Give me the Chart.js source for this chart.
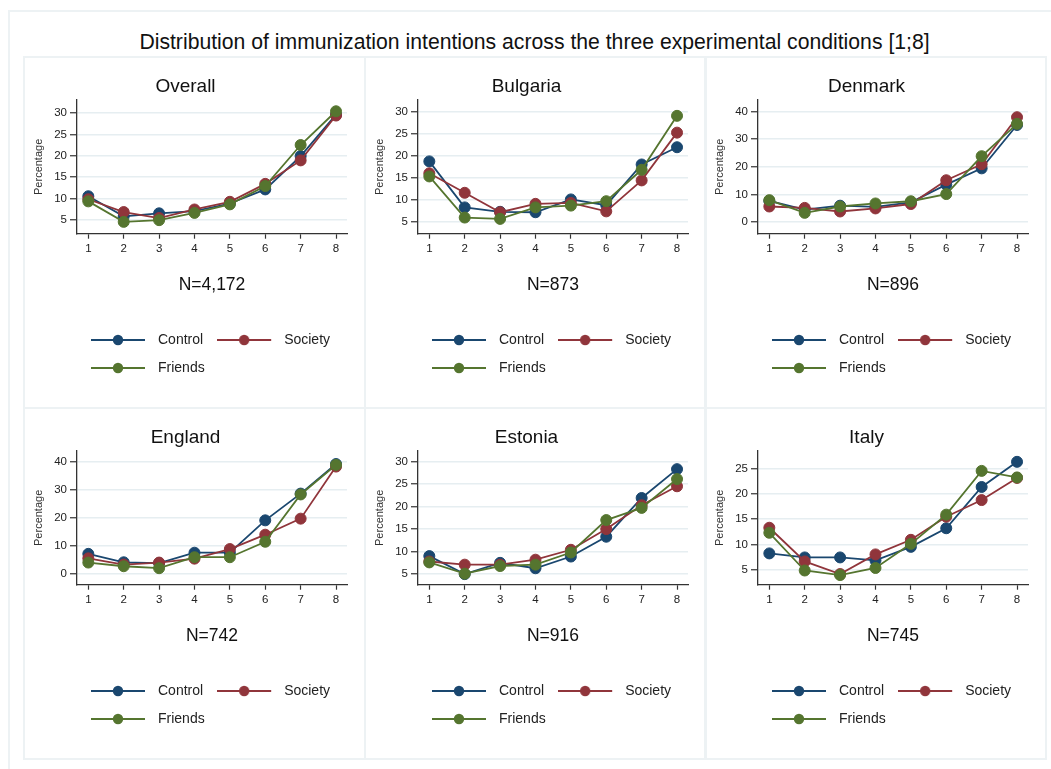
<!DOCTYPE html>
<html>
<head>
<meta charset="utf-8">
<script src="https://cdn.jsdelivr.net/npm/chart.js@4.4.1/dist/chart.umd.min.js"></script>
<style>
  html, body { margin: 0; padding: 0; background: #fff; overflow: hidden; }
  body { width: 1051px; height: 769px; position: relative; font-family: Arial, "Liberation Sans", sans-serif; }
  #frame { position: absolute; left: 8px; top: 10px; width: 1100px; height: 800px; border: 2px solid #edf2f4; box-sizing: border-box; }
  #title { position: absolute; left: 24px; width: 1021px; top: 29px; text-align: center; font-size: 21.2px; line-height: 26px; color: #111; }
  .box { position: absolute; border: 2px solid #edf2f4; box-sizing: border-box; }
  canvas { position: absolute; }
</style>
</head>
<body>
<div id="frame"></div>
<div id="title">Distribution of immunization intentions across the three experimental conditions [1;8]</div>

<script>
// response scale 1..8
const xValues = [1, 2, 3, 4, 5, 6, 7, 8];
const seriesNames = ["Control", "Society", "Friends"];
const panelTitles = ["Overall", "Bulgaria", "Denmark", "England", "Estonia", "Italy"];
const sampleSizes = ["N=4,172", "N=873", "N=896", "N=742", "N=916", "N=745"];

// percentages
const overallControl = [10.5, 5.8, 6.5, 7.0, 8.8, 12.1, 19.9, 29.6];
const overallSociety = [9.8, 6.8, 5.4, 7.4, 9.2, 13.4, 18.9, 29.4];
const overallFriends = [9.3, 4.5, 4.9, 6.6, 8.6, 12.9, 22.5, 30.4];

const bulgariaControl = [18.7, 8.3, 7.3, 7.2, 10.1, 8.8, 18.0, 21.9];
const bulgariaSociety = [16.0, 11.6, 7.2, 9.1, 9.3, 7.4, 14.4, 25.2];
const bulgariaFriends = [15.3, 6.0, 5.7, 8.3, 8.7, 9.7, 16.8, 29.0];

const denmarkControl = [7.6, 4.5, 5.9, 5.5, 7.1, 13.5, 19.4, 35.1];
const denmarkSociety = [5.6, 5.1, 3.8, 4.9, 6.5, 15.1, 20.9, 37.9];
const denmarkFriends = [7.9, 3.3, 5.6, 6.7, 7.5, 10.1, 23.8, 35.5];

const englandControl = [7.2, 4.2, 3.9, 7.6, 7.6, 19.1, 28.6, 39.1];
const englandSociety = [5.6, 3.4, 4.1, 5.5, 8.9, 14.0, 19.7, 38.2];
const englandFriends = [4.1, 2.8, 2.1, 6.0, 6.0, 11.5, 28.3, 38.8];

const estoniaControl = [9.0, 5.0, 7.5, 6.3, 8.9, 13.3, 21.9, 28.3];
const estoniaSociety = [7.8, 7.1, 7.1, 8.2, 10.4, 15.0, 20.3, 24.5];
const estoniaFriends = [7.6, 5.1, 6.8, 7.1, 9.8, 17.0, 19.7, 26.1];

const italyControl = [8.2, 7.4, 7.4, 6.8, 9.5, 13.2, 21.4, 26.4];
const italySociety = [13.3, 6.6, 4.1, 8.0, 10.9, 15.5, 18.8, 23.2];
const italyFriends = [12.3, 4.8, 3.9, 5.3, 10.1, 15.9, 24.6, 23.3];

const ticks5to30 = [5, 10, 15, 20, 25, 30];
const ticks0to40 = [0, 10, 20, 30, 40];
const ticks5to25 = [5, 10, 15, 20, 25];

const colors = ["#1a476f", "#90353b", "#55752f"];

const panels = [
  { data: [overallControl, overallSociety, overallFriends], yTicks: ticks5to30, yMin: 1.73, yMax: 33.04 },
  { data: [bulgariaControl, bulgariaSociety, bulgariaFriends], yTicks: ticks5to30, yMin: 2.35, yMax: 32.58 },
  { data: [denmarkControl, denmarkSociety, denmarkFriends], yTicks: ticks0to40, yMin: -4.24, yMax: 44.13 },
  { data: [englandControl, englandSociety, englandFriends], yTicks: ticks0to40, yMin: -3.76, yMax: 43.73 },
  { data: [estoniaControl, estoniaSociety, estoniaFriends], yTicks: ticks5to30, yMin: 2.65, yMax: 32.33 },
  { data: [italyControl, italySociety, italyFriends], yTicks: ticks5to25, yMin: 1.98, yMax: 28.55 },
];

const lefts = [24, 365, 705];
const tops = [57, 408];

Chart.defaults.font.family = 'Arial, "Liberation Sans", sans-serif';
Chart.defaults.color = "#222";

// legend key: short line with a marker in the middle
function legendIcon(color) {
  const c = document.createElement("canvas");
  c.width = 60;
  c.height = 12;
  const g = c.getContext("2d");
  g.strokeStyle = color;
  g.lineWidth = 1.8;
  g.beginPath();
  g.moveTo(0, 6);
  g.lineTo(54, 6);
  g.stroke();
  g.fillStyle = color;
  g.beginPath();
  g.arc(27, 6, 5.2, 0, Math.PI * 2);
  g.fill();
  return c;
}
const legendIcons = colors.map(legendIcon);

panels.forEach((p, k) => {
  const col = k % 3, row = Math.floor(k / 3);

  const box = document.createElement("div");
  box.className = "box";
  box.style.left = (lefts[col] - 1) + "px";
  box.style.top = (tops[row] - 1) + "px";
  box.style.width = "343px";
  box.style.height = "353px";
  document.body.appendChild(box);

  const cv = document.createElement("canvas");
  cv.width = 340;
  cv.height = 350;
  cv.style.left = lefts[col] + "px";
  cv.style.top = tops[row] + "px";
  document.body.appendChild(cv);

  new Chart(cv.getContext("2d"), {
    type: "line",
    data: {
      datasets: seriesNames.map((name, i) => ({
        label: name,
        data: xValues.map((x, j) => ({ x: x, y: p.data[i][j] })),
        borderColor: colors[i],
        backgroundColor: colors[i],
        pointBackgroundColor: colors[i],
        pointBorderColor: colors[i],
        pointRadius: 5.5,
        pointBorderWidth: 1,
        borderWidth: 1.8,
        tension: 0,
        order: 3 - i,
      })),
    },
    options: {
      responsive: false,
      animation: false,
      devicePixelRatio: 1,
      layout: { padding: { right: 17, bottom: 22 } },
      plugins: {
        title: {
          display: true,
          text: panelTitles[k],
          color: "#111",
          font: { size: 19, weight: "normal" },
          padding: { top: 18.6, bottom: 1.6 },
        },
        legend: {
          position: "bottom",
          align: "start",
          fullSize: false,
          labels: {
            usePointStyle: true,
            pointStyleWidth: 60,
            padding: 14,
            color: "#222",
            font: { size: 14 },
            generateLabels: (chart) =>
              chart.data.datasets.map((ds, i) => ({
                text: ds.label,
                pointStyle: legendIcons[i],
                fillStyle: ds.borderColor,
                strokeStyle: ds.borderColor,
                fontColor: "#222",
                lineWidth: 0,
                hidden: false,
                datasetIndex: i,
              })),
          },
        },
        tooltip: { enabled: false },
      },
      scales: {
        x: {
          type: "linear",
          min: 0.68,
          max: 8.31,
          afterBuildTicks: (s) => { s.ticks = xValues.map((v) => ({ value: v })); },
          grid: { drawOnChartArea: false, tickLength: 5, color: "#333", tickColor: "#333", tickWidth: 1.2 },
          border: { color: "#333", width: 1.3 },
          ticks: { font: { size: 11.5 }, color: "#222", padding: 3, autoSkip: false, maxRotation: 0 },
          title: {
            display: true,
            text: sampleSizes[k],
            color: "#111",
            font: { size: 17.5 },
            padding: { top: 16, bottom: 23.5 },
          },
        },
        y: {
          type: "linear",
          min: p.yMin,
          max: p.yMax,
          afterBuildTicks: (s) => { s.ticks = p.yTicks.map((v) => ({ value: v })); },
          afterFit: (s) => { s.width = 53; },
          grid: { color: "#e6eef1", lineWidth: 1.5, tickLength: 7, tickColor: "#333", tickWidth: 1.2 },
          border: { color: "#333", width: 1.3 },
          ticks: { font: { size: 11.5 }, color: "#222", padding: 3 },
          title: {
            display: true,
            text: "Percentage",
            color: "#333",
            font: { size: 11 },
            padding: { top: 8.4, bottom: 0 },
          },
        },
      },
    },
  });
});
</script>
</body>
</html>
